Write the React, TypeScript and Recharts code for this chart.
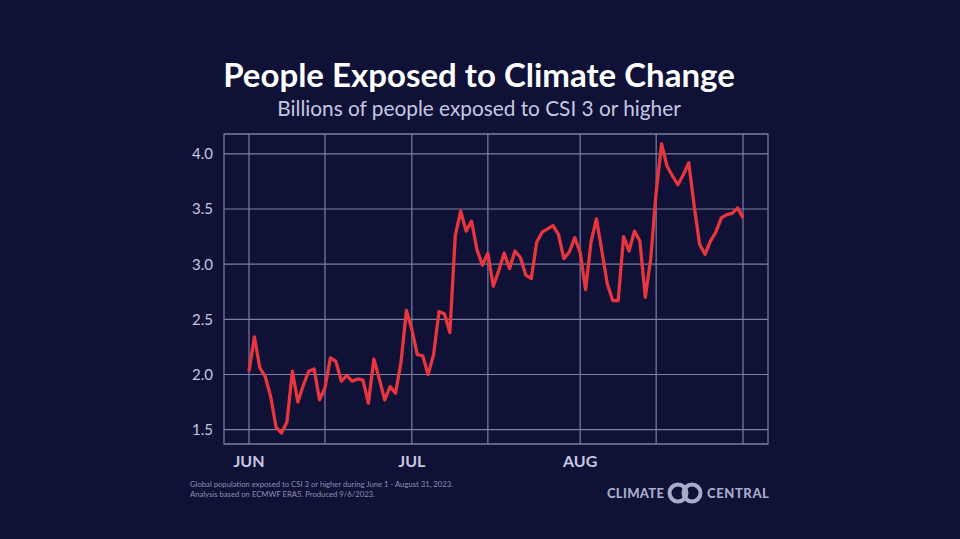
import React from 'react';
import { LineChart, Line, XAxis, YAxis, CartesianGrid, ReferenceLine, ReferenceArea } from 'recharts';

// billions of people exposed to CSI >= 3, one value per day, Jun 1 - Aug 31 2023
const exposed = [
  2.03, 2.34, 2.06, 1.98, 1.8, 1.52, 1.47, 1.57, 2.03, 1.75,
  1.9, 2.03, 2.05, 1.77, 1.88, 2.15, 2.12, 1.94, 1.99, 1.94,
  1.96, 1.95, 1.74, 2.14, 1.96, 1.77, 1.89, 1.83, 2.11, 2.58,
  2.41, 2.18, 2.17, 2.0, 2.18, 2.57, 2.55, 2.38, 3.26, 3.48,
  3.3, 3.39, 3.13, 2.99, 3.1, 2.8, 2.94, 3.1, 2.96, 3.12,
  3.06, 2.9, 2.87, 3.2, 3.29, 3.32, 3.35, 3.27, 3.05, 3.11,
  3.24, 3.11, 2.77, 3.2, 3.41, 3.12, 2.82, 2.67, 2.67, 3.25,
  3.12, 3.3, 3.21, 2.7, 3.05, 3.65, 4.09, 3.89, 3.8, 3.72,
  3.81, 3.92, 3.53, 3.18, 3.09, 3.21, 3.29, 3.42, 3.45, 3.46,
  3.51, 3.42,
];

const monthLabels = ['JUN', 'JUL', 'AUG'];
const monthStartDays = [0, 30, 61];
const gridDays = [0, 14, 30, 44, 61, 75, 91];
const yTicks = [1.5, 2.0, 2.5, 3.0, 3.5, 4.0];
const xDomain = [-4.6, 95.6];
const yDomain = [1.37, 4.18];

const data = exposed.map((v, i) => ({ day: i, value: v }));

const BG = '#0f1137';
const GRID = '#7c7fa3';
const LABEL = '#c6c8e0';

const App = () => {
  return (
    <div style={{ position: 'absolute', left: 0, top: 0, width: 960, height: 539, background: BG, overflow: 'hidden' }}>
      <LineChart width={960} height={539} data={data} margin={{ top: 134, right: 192, bottom: 65, left: 184 }}>
        <CartesianGrid vertical={false} stroke={GRID} strokeWidth={1.2} />
        <ReferenceArea
          x1={xDomain[0]}
          x2={xDomain[1]}
          y1={yDomain[0]}
          y2={yDomain[1]}
          fill="none"
          stroke={GRID}
          strokeWidth={1.2}
          ifOverflow="visible"
        />
        {gridDays.map((d) => (
          <ReferenceLine key={d} x={d} stroke={GRID} strokeWidth={1.2} />
        ))}
        <XAxis
          dataKey="day"
          type="number"
          domain={xDomain}
          ticks={monthStartDays}
          tickFormatter={(d) => monthLabels[monthStartDays.indexOf(d)]}
          axisLine={false}
          tickLine={false}
          tickSize={0}
          tickMargin={12}
          height={30}
          tick={{ fill: LABEL, fontSize: 16, fontWeight: 700, fontFamily: 'Lato' }}
        />
        <YAxis
          type="number"
          domain={yDomain}
          ticks={yTicks}
          tickFormatter={(v) => v.toFixed(1)}
          axisLine={false}
          tickLine={false}
          tickSize={0}
          tickMargin={11}
          width={40}
          tick={{ fill: LABEL, fontSize: 15, fontFamily: 'Lato' }}
        />
        <Line
          type="linear"
          dataKey="value"
          stroke="#e8363e"
          strokeWidth={3.3}
          dot={false}
          strokeLinejoin="round"
          isAnimationActive={false}
        />
      </LineChart>
      <svg width={960} height={539} style={{ position: 'absolute', left: 0, top: 0, pointerEvents: 'none' }}>
        <text x={479} y={87} textAnchor="middle" fill="#ffffff" fontSize={33} fontWeight={700} fontFamily="Lato">
          People Exposed to Climate Change
        </text>
        <text x={479} y={116} textAnchor="middle" fill={LABEL} fontSize={20.8} fontFamily="Lato">
          Billions of people exposed to CSI 3 or higher
        </text>
        <text x={190} y={487} fill="#8d8fb2" fontSize={7.7} fontFamily="Lato">
          Global population exposed to CSI 3 or higher during June 1 - August 31, 2023.
        </text>
        <text x={190} y={497} fill="#8d8fb2" fontSize={7.7} fontFamily="Lato">
          Analysis based on ECMWF ERA5. Produced 9/6/2023.
        </text>
        <text x={607} y={498} fill="#a9abc9" fontSize={13} fontWeight={900} fontFamily="Lato" letterSpacing={0.3}>
          CLIMATE
        </text>
        <circle cx={678} cy={493} r={8.5} fill="none" stroke="#a9abc9" strokeWidth={4} />
        <circle cx={692} cy={493} r={8.5} fill="none" stroke="#a9abc9" strokeWidth={4} />
        <text x={707} y={498} fill="#a9abc9" fontSize={13} fontWeight={900} fontFamily="Lato" letterSpacing={0.6}>
          CENTRAL
        </text>
      </svg>
    </div>
  );
};

export default App;
